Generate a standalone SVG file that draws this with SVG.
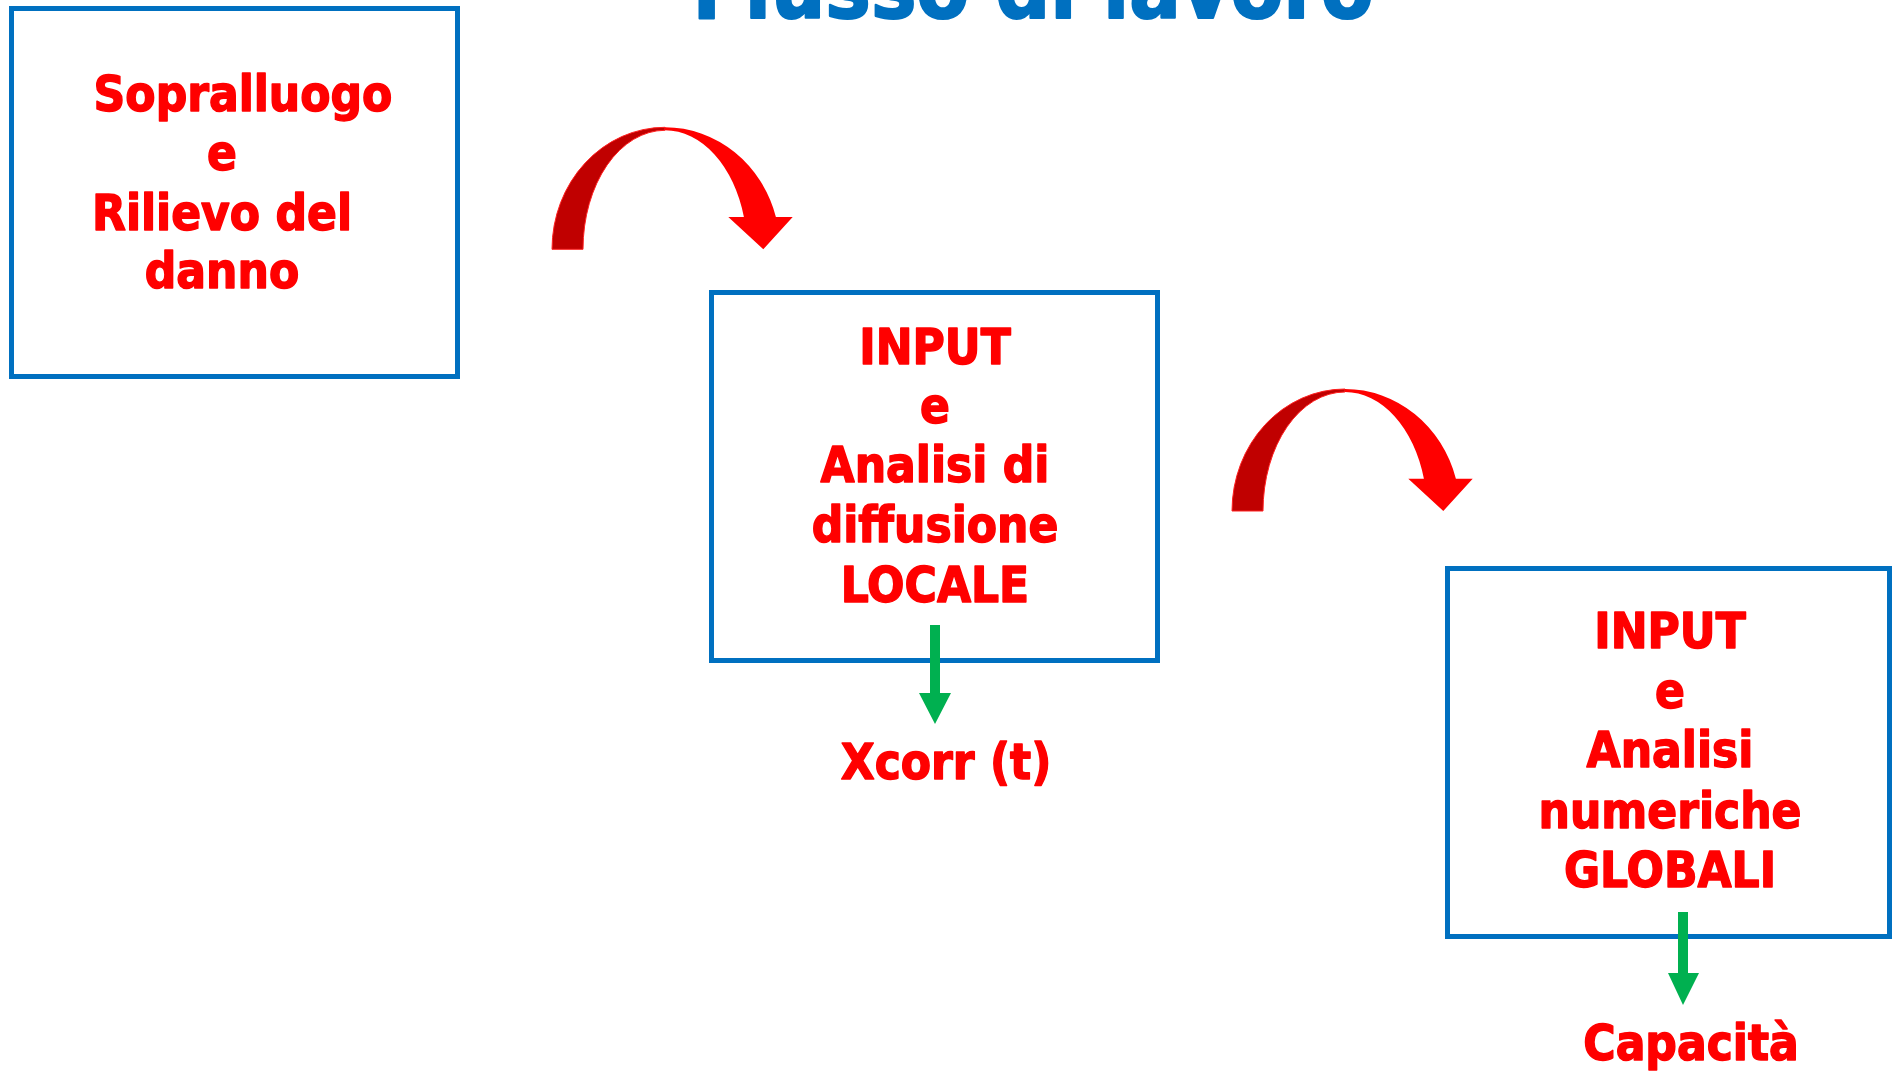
<svg xmlns="http://www.w3.org/2000/svg" width="1892" height="1071" viewBox="0 0 1892 1071">
  <style>
    .box { fill: #FFFFFF; stroke: #0070C0; stroke-width: 5; }
    .lbl { font-family: "DejaVu Sans Condensed", "DejaVu Sans", sans-serif; font-weight: bold; font-size: 49px; fill: #FF0000; stroke: #FF0000; stroke-width: 1.4; stroke-linejoin: round; text-anchor: middle; }
    .title { font-family: "DejaVu Sans Condensed", "DejaVu Sans", sans-serif; font-weight: bold; font-size: 85px; fill: #0070C0; stroke: #0070C0; stroke-width: 2; stroke-linejoin: round; text-anchor: middle; }
    .down { fill: #00B050; }
    .back { fill: #C00000; stroke: #FF2020; stroke-width: 1; }
    .front { fill: #FF0000; }
  </style>
  <defs>
    <!-- curved "step" arrow, origin at the centre of its arc -->
    <g id="curvedArrow">
      <path class="back" d="M -113,0 A 113 122 0 0 1 0,-122 L 0,-119 A 82 119 0 0 0 -82,0 Z"/>
      <path class="front" d="M 0,-122 A 115 122 0 0 1 110.9,-32.3 L 127.7,-32.3 L 98.3,0 L 63.3,-32.3 L 78.9,-32.3 A 82 119 0 0 0 0,-119 Z"/>
    </g>
  </defs>

  <rect width="1892" height="1071" fill="#FFFFFF"/>

  <text class="title" x="1033" y="18">Flusso di lavoro</text>

  <g id="node-sopralluogo">
    <rect class="box" x="11.5" y="8.5" width="446" height="368"/>
    <text class="lbl" x="243" y="111">Sopralluogo</text>
    <text class="lbl" x="222" y="170">e</text>
    <text class="lbl" x="222" y="230">Rilievo del</text>
    <text class="lbl" x="222" y="288">danno</text>
  </g>

  <g id="node-locale">
    <rect class="box" x="711.5" y="292.5" width="446" height="368"/>
    <text class="lbl" x="935" y="364">INPUT</text>
    <text class="lbl" x="935" y="423">e</text>
    <text class="lbl" x="935" y="482">Analisi di</text>
    <text class="lbl" x="935" y="542">diffusione</text>
    <text class="lbl" x="935" y="602">LOCALE</text>
  </g>

  <g id="node-xcorr">
    <text class="lbl" x="946" y="779">Xcorr (t)</text>
  </g>

  <g id="node-globali">
    <rect class="box" x="1447.5" y="568.5" width="442" height="368"/>
    <text class="lbl" x="1670" y="648">INPUT</text>
    <text class="lbl" x="1670" y="708">e</text>
    <text class="lbl" x="1670" y="767">Analisi</text>
    <text class="lbl" x="1670" y="828">numeriche</text>
    <text class="lbl" x="1670" y="887">GLOBALI</text>
  </g>

  <g id="node-capacita">
    <text class="lbl" x="1691" y="1060">Capacità</text>
  </g>

  <g id="connectors">
    <use href="#curvedArrow" x="665" y="249.3"/>
    <use href="#curvedArrow" x="1345" y="511"/>
    <polygon class="down" points="930,625 940,625 940,693 951,693 935,724 919,693 930,693"/>
    <polygon class="down" points="1678,912 1688,912 1688,973 1699,973 1683,1005 1668,973 1678,973"/>
  </g>
</svg>
